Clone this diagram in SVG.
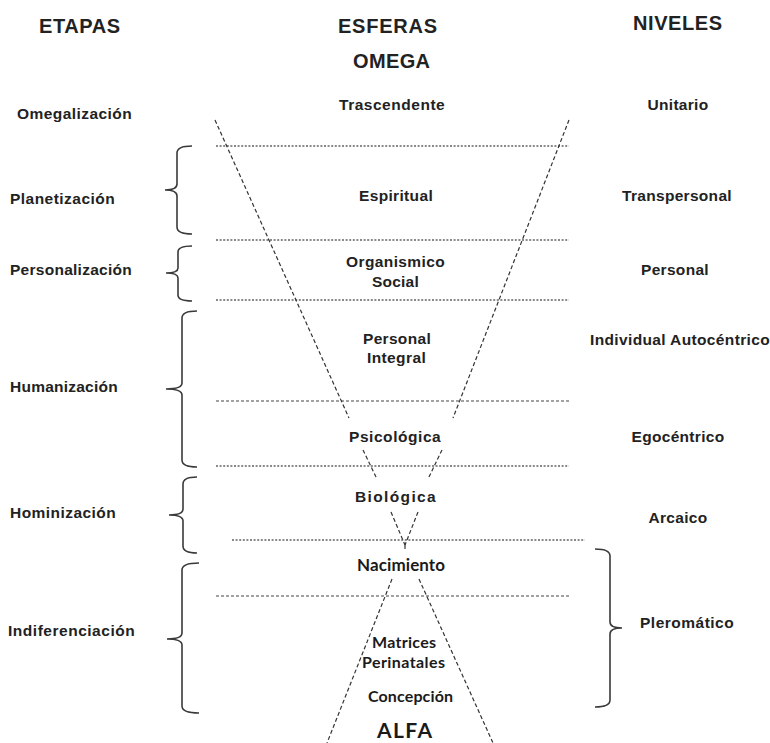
<svg xmlns="http://www.w3.org/2000/svg" width="770" height="743" viewBox="0 0 770 743">
<style>
.h{font-family:"Liberation Sans",Arial,sans-serif;font-weight:bold;font-size:20px;fill:#222}
.t{font-family:"Liberation Sans",Arial,sans-serif;font-weight:bold;font-size:15.5px;fill:#222;letter-spacing:0.3px}
.c{font-family:Lato,"Open Sans",sans-serif;font-weight:bold;font-size:16px;fill:#1a1a1a}
.m{text-anchor:middle}
.dot{stroke:#8a8a8a;stroke-width:2;stroke-dasharray:2 1.6;fill:none}
.dash{stroke:#444;stroke-width:1.2;stroke-dasharray:3 2;fill:none}
.cone{stroke:#333;stroke-width:1.2;stroke-dasharray:4 2.5;fill:none}
.br{stroke:#3a3a3a;stroke-width:1.6;fill:none}
</style>
<rect width="770" height="743" fill="#fff"/>
<g id="headers">
<text class="h" x="39" y="33" textLength="81">ETAPAS</text>
<text class="h" x="338" y="33" textLength="99">ESFERAS</text>
<text class="h" x="633" y="30" textLength="89">NIVELES</text>
<text class="h" x="353" y="68" textLength="77">OMEGA</text>
</g>
<g id="connectors">
<line class="dot" x1="216" y1="146" x2="569" y2="146"/>
<line class="dot" x1="216" y1="240" x2="569" y2="240"/>
<line class="dot" x1="216" y1="300" x2="569" y2="300"/>
<line class="dash" x1="216" y1="401" x2="569" y2="401"/>
<line class="dot" x1="216" y1="466" x2="569" y2="466"/>
<line class="dot" x1="232" y1="540" x2="585" y2="540"/>
<line class="dash" x1="216" y1="596" x2="569" y2="596"/>
<line class="cone" x1="215" y1="120" x2="349" y2="418"/>
<line class="cone" x1="569" y1="120" x2="453" y2="418"/>
<line class="cone" x1="363" y1="450" x2="377" y2="479"/>
<line class="cone" x1="442" y1="450" x2="428" y2="479"/>
<line class="cone" x1="391" y1="512" x2="405" y2="545"/>
<line class="cone" x1="418" y1="512" x2="405" y2="545"/>
<line class="cone" x1="405" y1="545" x2="405" y2="550"/>
<line class="cone" x1="392" y1="579" x2="327" y2="743"/>
<line class="cone" x1="419" y1="579" x2="493" y2="743"/>
</g>
<g id="braces">
<path class="br" d="M192 146 Q177 146 177 153 L177 184 Q177 190 165 190 Q177 190 177 196 L177 227 Q177 234 192 234"/>
<path class="br" d="M192 246 Q178 246 178 252 L178 268 Q178 273 166 273 Q178 273 178 278 L178 295 Q178 301 192 301"/>
<path class="br" d="M197 311 Q182 311 182 318 L182 383 Q182 389 166 389 Q182 389 182 395 L182 460 Q182 467 197 467"/>
<path class="br" d="M197 477 Q183 477 183 484 L183 509 Q183 515 169 515 Q183 515 183 521 L183 546 Q183 553 197 553"/>
<path class="br" d="M199 563 Q182 563 182 570 L182 633 Q182 639 167 639 Q182 639 182 645 L182 706 Q182 713 199 713"/>
<path class="br" d="M595 549 Q610 549 610 556 L610 622 Q610 628 622 628 Q610 628 610 634 L610 700 Q610 707 595 707"/>
</g>
<g id="etapas">
<text class="t" x="17" y="119" textLength="115">Omegalización</text>
<text class="t" x="10" y="204" textLength="105">Planetización</text>
<text class="t" x="10" y="275" textLength="122">Personalización</text>
<text class="t" x="10" y="392" textLength="108">Humanización</text>
<text class="t" x="10" y="518" textLength="106">Hominización</text>
<text class="t" x="8" y="636" textLength="127">Indiferenciación</text>
</g>
<g id="esferas">
<text class="t" x="339" y="110" textLength="106">Trascendente</text>
<text class="t" x="359" y="201" textLength="74">Espiritual</text>
<text class="t" x="346" y="267" textLength="99">Organismico</text>
<text class="t" x="372" y="287" textLength="47">Social</text>
<text class="t" x="363" y="344" textLength="68">Personal</text>
<text class="t" x="367" y="363" textLength="59">Integral</text>
<text class="t" x="349" y="442" textLength="92">Psicológica</text>
<text class="t" x="355" y="502" textLength="81">Biológica</text>
<text class="c" x="357" y="571" textLength="88" style="font-size:17px">Nacimiento</text>
<text class="c" x="372" y="648" textLength="64">Matrices</text>
<text class="c" x="362" y="668" textLength="83">Perinatales</text>
<text class="c" x="368" y="702" textLength="85">Concepción</text>
<text class="c" x="377" y="738" textLength="55" style="font-size:21px">ALFA</text>
</g>
<g id="niveles">
<text class="t m" x="678" y="110">Unitario</text>
<text class="t m" x="677" y="201">Transpersonal</text>
<text class="t m" x="675" y="275">Personal</text>
<text class="t" x="590" y="345" textLength="180">Individual Autocéntrico</text>
<text class="t m" x="678" y="442">Egocéntrico</text>
<text class="t m" x="678" y="523">Arcaico</text>
<text class="t" x="640" y="628" textLength="94">Pleromático</text>
</g>
</svg>
